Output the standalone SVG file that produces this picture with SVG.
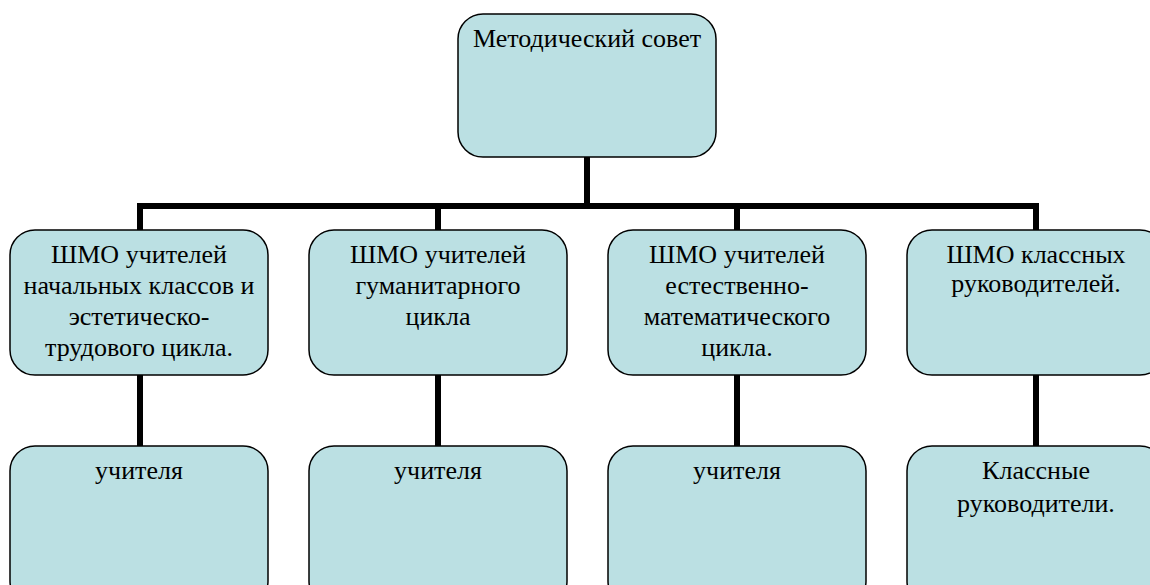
<svg xmlns="http://www.w3.org/2000/svg" width="1150" height="585" viewBox="0 0 1150 585">
<style>
.box{fill:#BBE0E3;stroke:#000;stroke-width:1.5}
.c{stroke:#000;stroke-width:6;fill:none;stroke-linecap:square}
</style>
<rect width="1150" height="585" fill="#fff"/>
<g id="connectors">
<line class="c" x1="587" y1="157" x2="587" y2="206"/>
<line class="c" x1="140" y1="206" x2="1036" y2="206"/>
<line class="c" x1="140" y1="206" x2="140" y2="230"/>
<line class="c" x1="438" y1="206" x2="438" y2="230"/>
<line class="c" x1="737" y1="206" x2="737" y2="230"/>
<line class="c" x1="1036" y1="206" x2="1036" y2="230"/>
<line class="c" x1="140" y1="375" x2="140" y2="446"/>
<line class="c" x1="438" y1="375" x2="438" y2="446"/>
<line class="c" x1="737" y1="375" x2="737" y2="446"/>
<line class="c" x1="1036" y1="375" x2="1036" y2="446"/>
</g>
<g id="n0"><rect class="box" x="458" y="14" width="258" height="143" rx="25"/><text font-family="Liberation Serif" font-size="26" text-anchor="middle" x="587" y="47">Методический совет</text></g>
<g id="n1"><rect class="box" x="10" y="230" width="258" height="145" rx="25"/><text font-family="Liberation Serif" font-size="26" text-anchor="middle" x="139"><tspan x="139" y="263">ШМО учителей</tspan><tspan x="139" y="294">начальных классов и</tspan><tspan x="139" y="325">эстетическо-</tspan><tspan x="139" y="356">трудового цикла.</tspan></text></g>
<g id="n2"><rect class="box" x="309" y="230" width="258" height="145" rx="25"/><text font-family="Liberation Serif" font-size="26" text-anchor="middle" x="438"><tspan x="438" y="263">ШМО учителей</tspan><tspan x="438" y="294">гуманитарного</tspan><tspan x="438" y="325">цикла</tspan></text></g>
<g id="n3"><rect class="box" x="608" y="230" width="258" height="145" rx="25"/><text font-family="Liberation Serif" font-size="26" text-anchor="middle" x="737"><tspan x="737" y="263">ШМО учителей</tspan><tspan x="737" y="294">естественно-</tspan><tspan x="737" y="325">математического</tspan><tspan x="737" y="356">цикла.</tspan></text></g>
<g id="n4"><rect class="box" x="907" y="230" width="258" height="145" rx="25"/><text font-family="Liberation Serif" font-size="26" text-anchor="middle" x="1036"><tspan x="1036" y="263">ШМО классных</tspan><tspan x="1036" y="292">руководителей.</tspan></text></g>
<g id="n5"><rect class="box" x="10" y="446" width="258" height="160" rx="25"/><text font-family="Liberation Serif" font-size="26" text-anchor="middle" x="139" y="479">учителя</text></g>
<g id="n6"><rect class="box" x="309" y="446" width="258" height="160" rx="25"/><text font-family="Liberation Serif" font-size="26" text-anchor="middle" x="438" y="479">учителя</text></g>
<g id="n7"><rect class="box" x="608" y="446" width="258" height="160" rx="25"/><text font-family="Liberation Serif" font-size="26" text-anchor="middle" x="737" y="479">учителя</text></g>
<g id="n8"><rect class="box" x="907" y="446" width="258" height="160" rx="25"/><text font-family="Liberation Serif" font-size="26" text-anchor="middle" x="1036"><tspan x="1036" y="479">Классные</tspan><tspan x="1036" y="512">руководители.</tspan></text></g>
</svg>
